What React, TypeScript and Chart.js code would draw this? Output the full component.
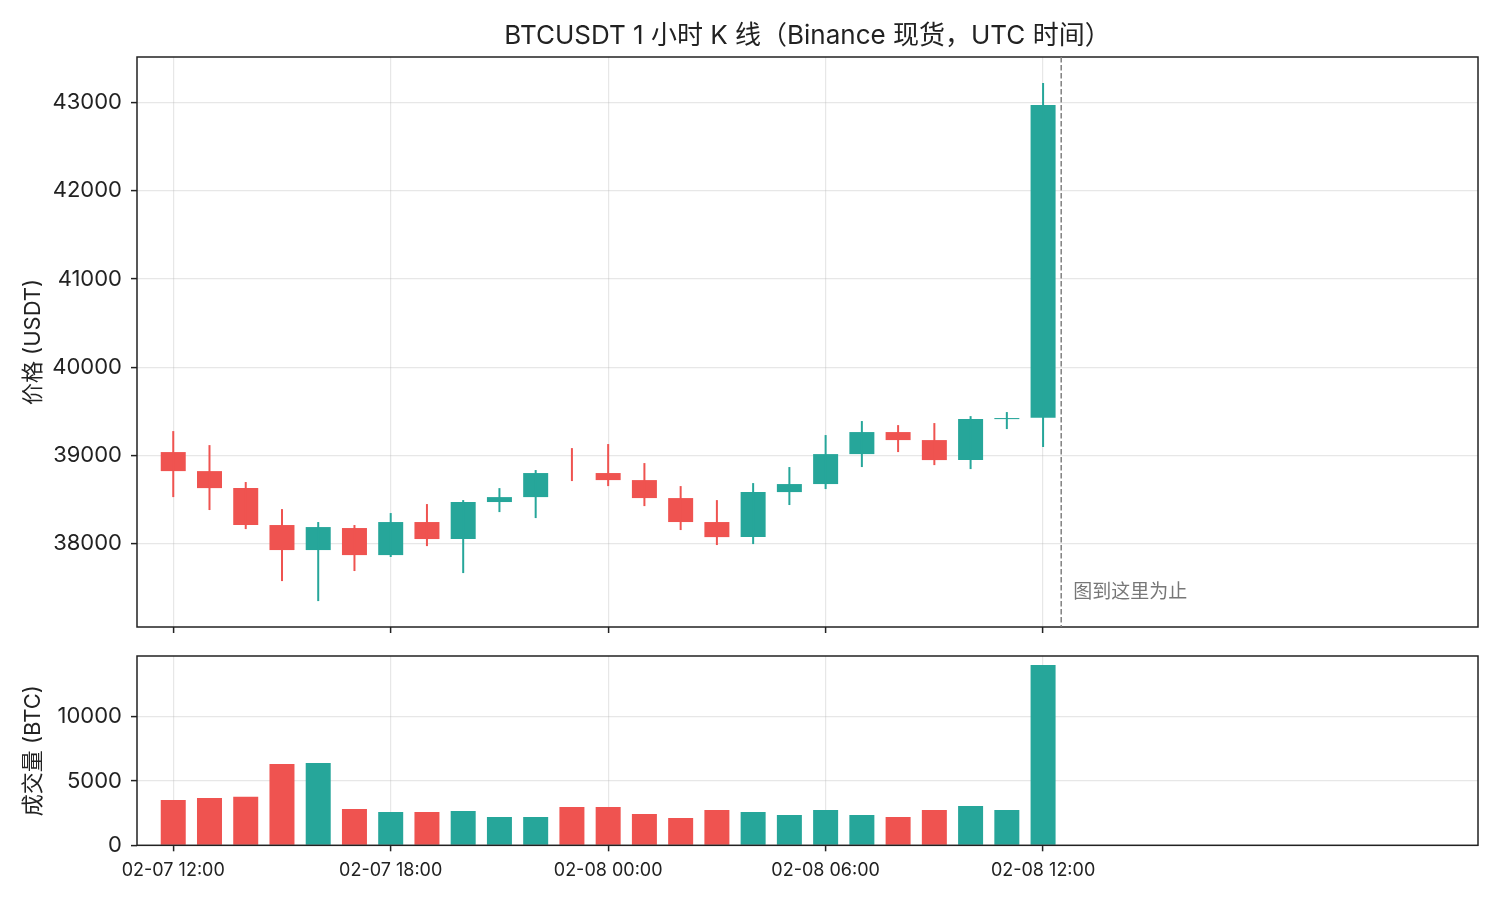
import { useEffect, useRef } from "react";
import { Chart, registerables } from "chart.js";

Chart.register(...registerables);

// hours after 02-07 12:00 UTC, one candle per hour
const hours = [0, 1, 2, 3, 4, 5, 6, 7, 8, 9, 10, 11, 12, 13, 14, 15, 16, 17, 18, 19, 20, 21, 22, 23, 24];
const opens = [39036, 38820, 38627, 38208, 37924, 38174, 37867, 38242, 38049, 38469, 38525, 38798, 38798, 38718, 38514, 38242, 38071, 38582, 38673, 39013, 39263, 39172, 38945, 39410, 39425];
const highs = [39274, 39115, 38696, 38389, 38242, 38208, 38344, 38446, 38491, 38627, 38832, 39081, 39127, 38911, 38650, 38491, 38684, 38866, 39229, 39388, 39342, 39365, 39444, 39490, 43225];
const lows = [38525, 38378, 38162, 37572, 37345, 37686, 37845, 37969, 37663, 38355, 38287, 38707, 38650, 38423, 38151, 37981, 37992, 38435, 38616, 38866, 39036, 38888, 38843, 39297, 39093];
const closes = [38820, 38627, 38208, 37924, 38185, 37867, 38242, 38049, 38469, 38525, 38798, 38798, 38718, 38514, 38242, 38071, 38582, 38673, 39013, 39263, 39172, 38945, 39410, 39422, 42975];
const volumes = [3520, 3680, 3780, 6320, 6400, 2820, 2590, 2590, 2670, 2200, 2200, 2980, 2980, 2430, 2120, 2750, 2590, 2360, 2750, 2360, 2200, 2750, 3060, 2750, 14020];

const tickHours = [0, 6, 12, 18, 24];
const tickLabels = ["02-07 12:00", "02-07 18:00", "02-08 00:00", "02-08 06:00", "02-08 12:00"];
const priceTicks = [38000, 39000, 40000, 41000, 42000, 43000];
const volumeTicks = [0, 5000, 10000];
const xRange = [-1, 36];
const stopHour = 24.5;

const TITLE = "BTCUSDT 1 小时 K 线（Binance 现货，UTC 时间）";
const STOP_TEXT = "图到这里为止";
const UP = "#26a69a";
const DOWN = "#ef5350";
const FONT = "Inter, 'Noto Sans CJK SC', sans-serif";
const INK = "#222222";
const GRID = "rgba(176,176,176,0.3)";

const barColors = closes.map((c, i) => (c > opens[i] ? UP : DOWN));

const frame = {
  id: "frame",
  afterDraw(chart: Chart) {
    const { ctx, chartArea: a } = chart;
    ctx.save();
    ctx.strokeStyle = INK;
    ctx.lineWidth = 1.5;
    ctx.strokeRect(a.left, a.top, a.right - a.left, a.bottom - a.top);
    ctx.restore();
  },
};

const stopLine = {
  id: "stopLine",
  afterDraw(chart: Chart) {
    const { ctx, chartArea: a, scales } = chart;
    const x = scales.x.getPixelForValue(stopHour);
    ctx.save();
    ctx.strokeStyle = "#808080";
    ctx.lineWidth = 1.5;
    ctx.setLineDash([5.5, 2.5]);
    ctx.beginPath();
    ctx.moveTo(x, a.top);
    ctx.lineTo(x, a.bottom);
    ctx.stroke();
    ctx.setLineDash([]);
    ctx.fillStyle = "#777777";
    ctx.font = "19px 'Noto Sans CJK SC'";
    ctx.textBaseline = "middle";
    ctx.fillText(STOP_TEXT, x + 12, a.bottom - 36);
    ctx.restore();
  },
};

function xScale(showLabels: boolean, height: number) {
  return {
    type: "linear" as const,
    min: xRange[0],
    max: xRange[1],
    offset: false,
    z: 1,
    afterBuildTicks: (s: any) => {
      s.ticks = tickHours.map((v) => ({ value: v }));
    },
    afterFit: (s: any) => {
      s.height = height;
      s.paddingLeft = 0;
      s.paddingRight = 0;
    },
    border: { display: false },
    grid: { offset: false, color: GRID, lineWidth: 1.2, tickColor: INK, tickLength: 6, tickWidth: 1.5 },
    ticks: {
      display: showLabels,
      color: INK,
      padding: 8,
      maxRotation: 0,
      autoSkip: false,
      font: { family: FONT, size: 18 },
      callback: (v: any) => tickLabels[tickHours.indexOf(Number(v))],
    },
  };
}

function yScale(min: number, max: number, ticks: number[], title: string) {
  return {
    min,
    max,
    z: 1,
    afterBuildTicks: (s: any) => {
      s.ticks = ticks.map((v) => ({ value: v }));
    },
    afterFit: (s: any) => {
      s.width = 137;
      s.paddingTop = 0;
      s.paddingBottom = 0;
    },
    border: { display: false },
    grid: { color: GRID, lineWidth: 1.2, tickColor: INK, tickLength: 6, tickWidth: 1.5 },
    ticks: {
      color: INK,
      padding: 9,
      font: { family: FONT, size: 22 },
      callback: (v: any) => String(v),
    },
    title: {
      display: true,
      text: title,
      color: INK,
      padding: { top: 20, bottom: 0 },
      font: { family: FONT, size: 22 },
    },
  };
}

function PriceChart() {
  const ref = useRef<HTMLCanvasElement>(null);
  useEffect(() => {
    if (!ref.current) return;
    const lo = Math.min(...lows);
    const hi = Math.max(...highs);
    const pad = (hi - lo) * 0.05;
    const chart = new Chart(ref.current, {
      type: "bar",
      data: {
        datasets: [
          {
            data: hours.map((h, i) => ({ x: h, y: [lows[i], highs[i]] })) as any,
            backgroundColor: barColors,
            barThickness: 2,
            inflateAmount: 0,
            grouped: false,
          },
          {
            data: hours.map((h, i) => ({ x: h, y: [opens[i], closes[i]] })) as any,
            backgroundColor: barColors,
            barThickness: 25,
            inflateAmount: 0,
            grouped: false,
          },
        ],
      },
      options: {
        responsive: true,
        maintainAspectRatio: false,
        animation: false,
        layout: { padding: { left: 0, right: 22, top: 0, bottom: 0 } },
        plugins: {
          legend: { display: false },
          tooltip: { enabled: false },
          title: {
            display: true,
            text: TITLE,
            color: INK,
            fullSize: false,
            padding: { top: 21, bottom: 4.8 },
            font: { family: FONT, size: 26, weight: "normal", lineHeight: 1.2 },
          },
        },
        scales: {
          x: xScale(false, 13) as any,
          y: yScale(lo - pad, hi + pad, priceTicks, "价格 (USDT)") as any,
        },
      },
      plugins: [frame, stopLine],
    });
    return () => chart.destroy();
  }, []);
  return <canvas ref={ref} />;
}

function VolumeChart() {
  const ref = useRef<HTMLCanvasElement>(null);
  useEffect(() => {
    if (!ref.current) return;
    const chart = new Chart(ref.current, {
      type: "bar",
      data: {
        datasets: [
          {
            data: hours.map((h, i) => ({ x: h, y: volumes[i] })) as any,
            backgroundColor: barColors,
            barThickness: 25,
            inflateAmount: 0,
          },
        ],
      },
      options: {
        responsive: true,
        maintainAspectRatio: false,
        animation: false,
        layout: { padding: { left: 0, right: 22, top: 16, bottom: 0 } },
        plugins: {
          legend: { display: false },
          tooltip: { enabled: false },
        },
        scales: {
          x: xScale(true, 54.7) as any,
          y: yScale(0, Math.max(...volumes) * 1.05, volumeTicks, "成交量 (BTC)") as any,
        },
      },
      plugins: [frame],
    });
    return () => chart.destroy();
  }, []);
  return <canvas ref={ref} />;
}

export default function App() {
  return (
    <div style={{ position: "absolute", left: 0, top: 0, width: 1500, height: 900, background: "#fff" }}>
      <div style={{ position: "absolute", left: 0, top: 0, width: 1500, height: 640 }}>
        <PriceChart />
      </div>
      <div style={{ position: "absolute", left: 0, top: 640, width: 1500, height: 260 }}>
        <VolumeChart />
      </div>
    </div>
  );
}
